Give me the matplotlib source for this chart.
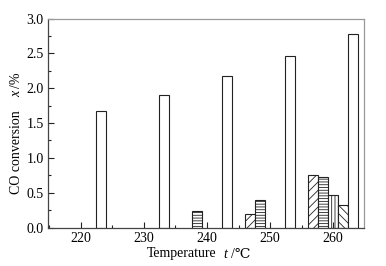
import numpy as np
import matplotlib
matplotlib.use("Agg")
import matplotlib.pyplot as plt
from matplotlib.ticker import MultipleLocator, FormatStrFormatter

plt.rcParams['font.family'] = ['Liberation Serif', 'DejaVu Serif']
plt.rcParams['hatch.linewidth'] = 0.6
plt.rcParams['hatch.color'] = '#333333'

# data
temps = [220, 230, 240, 250, 260]
diag_fwd = [0, 0, 0, 0.19, 0.76]
horiz = [0, 0, 0.23, 0.39, 0.73]
vert = [0, 0, 0, 0, 0.47]
diag_back = [0, 0, 0, 0, 0.32]
blank = [1.67, 1.90, 2.17, 2.46, 2.78]

series = [diag_fwd, horiz, vert, diag_back, blank]
hatches = ['////', '------', '|||||', '\\\\\\\\', '']

fig = plt.figure(figsize=(3.86, 2.66), dpi=100)
ax = fig.add_axes([0.1244, 0.1447, 0.8187, 0.7853])

width = 1.6
t = np.array(temps)
for i, (vals, h) in enumerate(zip(series, hatches)):
    vals = np.array(vals)
    m = vals > 0
    ax.bar(t[m] + (i - 2) * width, vals[m], width=width, color='white',
           edgecolor='#222222', linewidth=0.8, hatch=h)

ax.set_xlim(214.8, 264.9)
ax.set_ylim(0, 3.0)
ax.xaxis.set_major_locator(MultipleLocator(10))
ax.xaxis.set_minor_locator(MultipleLocator(5))
ax.yaxis.set_major_locator(MultipleLocator(0.5))
ax.yaxis.set_minor_locator(MultipleLocator(0.25))
ax.yaxis.set_major_formatter(FormatStrFormatter('%.1f'))

ax.tick_params(which='both', direction='in', top=False, right=False,
               labelsize=10, color='#222222', width=0.8)
ax.tick_params(which='major', length=4, pad=3)
ax.tick_params(which='minor', length=2.5)

for s in ['left', 'bottom']:
    ax.spines[s].set_color('#444444')
    ax.spines[s].set_linewidth(0.9)
for s in ['top', 'right']:
    ax.spines[s].set_color('#999999')
    ax.spines[s].set_linewidth(0.9)

# axis titles pieced together so t and x can be italic
fs = 10
ylab = 1 - 254 / 266
fig.text(147 / 386, ylab, 'Temperature', fontsize=fs, ha='left', va='center')
fig.text(223 / 386, ylab, 't', fontsize=fs, style='italic', ha='left', va='center')
fig.text(231 / 386, ylab, '/℃', fontsize=fs, ha='left', va='center')

xl = 17 / 386
fig.text(xl, 1 - 194 / 266, 'CO conversion', fontsize=fs, rotation=90,
         ha='center', va='bottom')
fig.text(xl, 1 - 97 / 266, 'x', fontsize=fs, rotation=90, style='italic',
         ha='center', va='bottom')
fig.text(xl, 1 - 88 / 266, '/%', fontsize=fs, rotation=90,
         ha='center', va='bottom')

fig.savefig('out.png', dpi=100)
